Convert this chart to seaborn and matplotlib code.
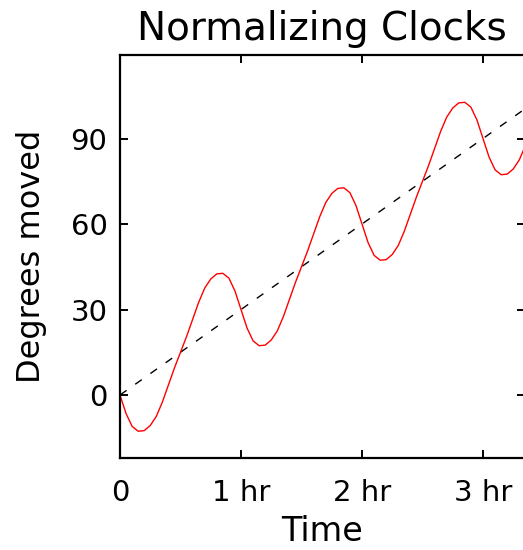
import numpy as np
import pandas as pd
import matplotlib
matplotlib.use("Agg")
import matplotlib.pyplot as plt
import seaborn as sns

# =========================
# DATA
# =========================

# time in hours, every 0.05 hr
hours = [round(0.05 * i, 2) for i in range(68)]

# red clock, degrees moved
red_deg = [
    0.0, -6.5, -11.0, -12.7, -12.5, -10.7, -7.5, -2.5, 3.5, 9.5,
    15.0, 20.5, 26.5, 32.5, 37.5, 40.7, 42.5, 42.7, 41.0, 36.5,
    30.0, 23.5, 19.0, 17.3, 17.5, 19.3, 22.5, 27.5, 33.5, 39.5,
    45.0, 50.5, 56.5, 62.5, 67.5, 70.7, 72.5, 72.7, 71.0, 66.5,
    60.0, 53.5, 49.0, 47.3, 47.5, 49.3, 52.5, 57.5, 63.5, 69.5,
    75.0, 80.5, 86.5, 92.5, 97.5, 100.7, 102.5, 102.7, 101.0, 96.5,
    90.0, 83.5, 79.0, 77.3, 77.5, 79.3, 82.5, 87.5,
]

# reference clock (dashed), straight line
ref_hours = [0.0, 3.4]
ref_deg = [0.0, 102.0]

x_ticks = [0, 1, 2, 3]
x_tick_labels = ["0", "1 hr", "2 hr", "3 hr"]
y_ticks = [0, 30, 60, 90]

df_red = pd.DataFrame({"Time": hours, "Degrees": red_deg})
df_ref = pd.DataFrame({"Time": ref_hours, "Degrees": ref_deg})

# =========================
# PLOT
# =========================

sns.set_style("white")
plt.rcParams["font.family"] = ["DejaVu Sans"]
plt.rcParams["text.color"] = "black"
plt.rcParams["axes.labelcolor"] = "black"
plt.rcParams["xtick.color"] = "black"
plt.rcParams["ytick.color"] = "black"

fig = plt.figure(figsize=(5.23, 5.5), dpi=100)
ax = fig.add_axes([120 / 523, 92 / 550, 404.5 / 523, 403 / 550])

sns.lineplot(data=df_ref, x="Time", y="Degrees", ax=ax,
             color="black", linewidth=1.0, linestyle=(0, (5.8, 7.6)))
sns.lineplot(data=df_red, x="Time", y="Degrees", ax=ax,
             color="#ff0000", linewidth=1.0)

ax.set_xlim(0, 404.5 / 121)
ax.set_ylim(-22.1, 119.3)

ax.set_xticks(x_ticks)
ax.set_xticklabels(x_tick_labels)
ax.set_yticks(y_ticks)

ax.tick_params(direction="in", length=6, width=1.4, labelsize=21,
               top=True, right=True, bottom=True, left=True,
               colors="black")
ax.tick_params(axis="x", pad=15)
ax.tick_params(axis="y", pad=9)

for side in ["left", "bottom", "top", "right"]:
    ax.spines[side].set_linewidth(1.6)
    ax.spines[side].set_color("black")

ax.set_title("Normalizing Clocks", fontsize=28, pad=11, color="black")
ax.set_xlabel("Time", fontsize=24, labelpad=6)
ax.set_ylabel("Degrees moved", fontsize=23, labelpad=17)

fig.savefig("out.png", dpi=100)
